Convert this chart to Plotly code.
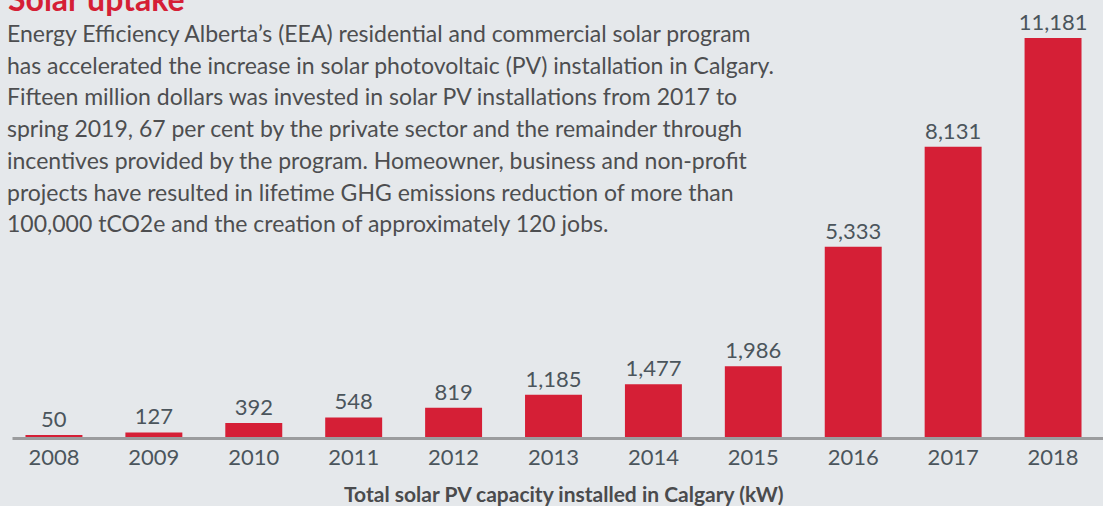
import plotly.graph_objects as go

years = ["2008", "2009", "2010", "2011", "2012", "2013", "2014", "2015", "2016", "2017", "2018"]
capacity_kw = [50, 127, 392, 548, 819, 1185, 1477, 1986, 5333, 8131, 11181]
value_labels = ["50", "127", "392", "548", "819", "1,185", "1,477", "1,986", "5,333", "8,131", "11,181"]

title_text = "Solar uptake"
body_lines = [
    "Energy Efficiency Alberta\u2019s (EEA) residential and commercial solar program",
    "has accelerated the increase in solar photovoltaic (PV) installation in Calgary.",
    "Fifteen million dollars was invested in solar PV installations from 2017 to",
    "spring 2019, 67 per cent by the private sector and the remainder through",
    "incentives provided by the program. Homeowner, business and non-profit",
    "projects have resulted in lifetime GHG emissions reduction of more than",
    "100,000 tCO2e and the creation of approximately 120 jobs.",
]
axis_title = "Total solar PV capacity installed in Calgary (kW)"

W, H = 1103, 506
ML, MR, MT, MB = 3.5, 0, 20, 69
PH = H - MT - MB
PW = W - ML - MR

BG = "#e5e8eb"
RED = "#d51f36"
TXT = "#4d4e50"
TICK = "#4b555c"
FONT = "Lato"


def py(p):
    return (H - MB - p) / PH


def px(p):
    return (p - ML) / PW


fig = go.Figure()
fig.add_trace(go.Bar(
    x=years, y=capacity_kw, text=value_labels, textposition="outside",
    constraintext="none",
    marker=dict(color=RED, line=dict(width=0)),
    textfont=dict(family=FONT, size=22, color=TICK),
    cliponaxis=False, hoverinfo="skip",
))

annotations = [dict(
    text="<b>" + title_text + "</b>", xref="paper", yref="paper",
    x=px(6), y=py(20), xanchor="left", yanchor="bottom", showarrow=False,
    font=dict(family=FONT, size=32, color=RED),
)]
for i, line in enumerate(body_lines):
    annotations.append(dict(
        text=line, xref="paper", yref="paper", x=px(5), y=py(33 + 31.7 * i),
        xanchor="left", yanchor="middle", showarrow=False,
        font=dict(family=FONT, size=23, color=TXT),
    ))
annotations.append(dict(
    text="<b>" + axis_title + "</b>", xref="paper", yref="paper",
    x=px(563), y=py(493), xanchor="center", yanchor="middle", showarrow=False,
    font=dict(family=FONT, size=21, color="#4a4b4d"),
))

fig.update_layout(
    width=W, height=H,
    margin=dict(l=ML, r=MR, t=MT, b=MB, pad=0),
    paper_bgcolor=BG, plot_bgcolor=BG,
    bargap=0.43, showlegend=False,
    annotations=annotations,
    shapes=[dict(type="line", xref="paper", yref="paper", x0=px(12), x1=1.0,
                 y0=py(438.5), y1=py(438.5), line=dict(color="#9b9c9e", width=3), layer="above")],
    xaxis=dict(showgrid=False, showline=False, zeroline=False, ticks="",
               tickfont=dict(family=FONT, size=22, color=TICK), ticklabelstandoff=5),
    yaxis=dict(visible=False, range=[0, 11181 * PH / 399]),
)

fig.write_html(
    "out.html",
    config={"displayModeBar": False},
    post_script="document.body.style.margin='0';document.body.style.background='" + BG + "';",
)
